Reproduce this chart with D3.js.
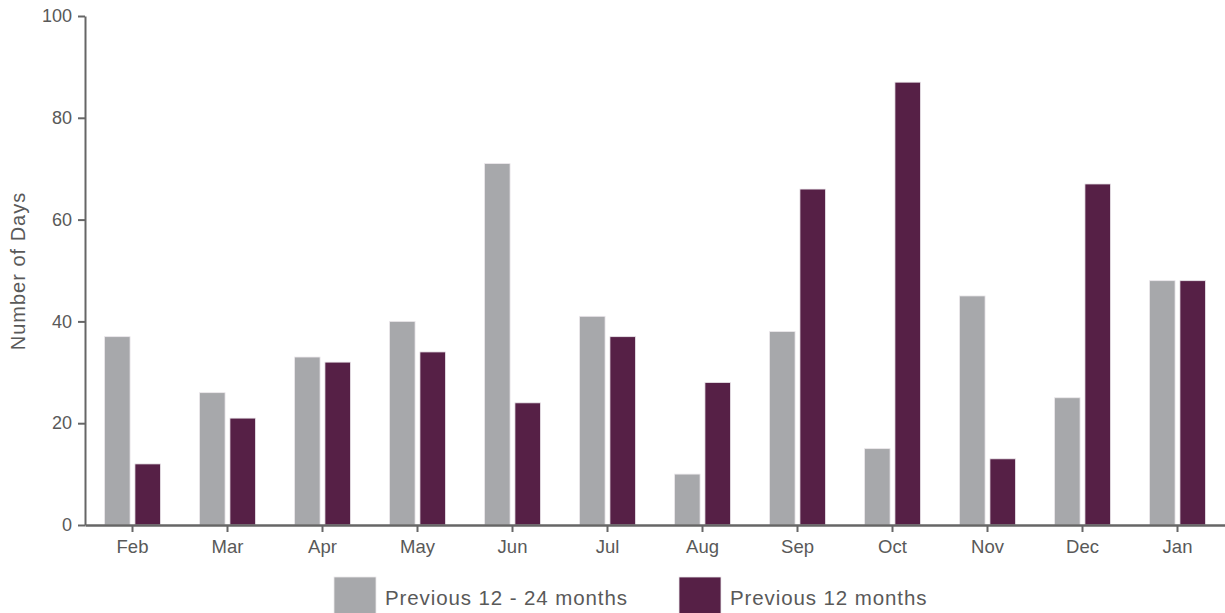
<!DOCTYPE html>
<html>
<head>
<meta charset="utf-8">
<script src="https://cdn.jsdelivr.net/npm/d3@7"></script>
<style>
  html, body { margin: 0; padding: 0; background: #fff; }
  svg { display: block; font-family: "Liberation Sans", Arial, sans-serif; }
</style>
</head>
<body>
<svg id="chart" width="1225" height="613"></svg>
<script>
const months = ["Feb","Mar","Apr","May","Jun","Jul","Aug","Sep","Oct","Nov","Dec","Jan"];
const seriesNames = ["Previous 12 - 24 months", "Previous 12 months"];
const prev12to24 = [37, 26, 33, 40, 71, 41, 10, 38, 15, 45, 25, 48];
const prev12 = [12, 21, 32, 34, 24, 37, 28, 66, 87, 13, 67, 48];
const yTicks = [0, 20, 40, 60, 80, 100];
const colors = ["#a7a8ab", "#562046"];

const rows = months.map((m, i) => ({ month: m, values: [prev12to24[i], prev12[i]] }));

const svg = d3.select("#chart");
const textColor = "#595959";
const axisColor = "#666";

const x0 = d3.scaleBand().domain(months).range([85, 1225]).padding(0);
const bw = x0.bandwidth();
const x1 = d3.scaleBand().domain([0, 1]).range([bw / 2 - 28, bw / 2 + 28]).paddingInner(0.16);
const y = d3.scaleLinear().domain([0, 100]).range([525, 16]);

// bars
const groups = svg.append("g").selectAll("g").data(rows).join("g")
  .attr("transform", d => `translate(${x0(d.month)},0)`);
groups.selectAll("rect").data(d => d.values.map((v, k) => ({ k, v }))).join("rect")
  .attr("x", d => x1(d.k))
  .attr("width", x1.bandwidth())
  .attr("y", d => y(d.v))
  .attr("height", d => y(0) - y(d.v))
  .attr("fill", d => colors[d.k])
  .attr("stroke", "#ece8ec")
  .attr("stroke-width", 0.8);

// y axis
const yAxis = svg.append("g").attr("transform", "translate(85,0)")
  .call(d3.axisLeft(y).tickValues(yTicks).tickSize(7).tickPadding(6).tickSizeOuter(0));
yAxis.select(".domain").attr("stroke", axisColor).attr("stroke-width", 2);
yAxis.selectAll(".tick line").attr("stroke", axisColor).attr("stroke-width", 2);
yAxis.selectAll(".tick text").attr("fill", textColor).style("font-size", "18px")
  .style("font-family", '"Liberation Sans", Arial, sans-serif');

// x axis
const xAxis = svg.append("g").attr("transform", `translate(0,${y(0)})`)
  .call(d3.axisBottom(x0).tickSize(7).tickPadding(8).tickSizeOuter(0));
xAxis.select(".domain").attr("stroke", axisColor).attr("stroke-width", 2.5);
xAxis.selectAll(".tick line").attr("stroke", axisColor).attr("stroke-width", 2);
xAxis.selectAll(".tick text").attr("fill", textColor).style("font-size", "18.5px")
  .style("font-family", '"Liberation Sans", Arial, sans-serif');

// y title
svg.append("text")
  .attr("transform", "translate(25,271) rotate(-90)")
  .attr("text-anchor", "middle")
  .attr("fill", textColor)
  .style("font-size", "20px")
  .style("letter-spacing", "1px")
  .text("Number of Days");

// legend
const legendX = [334, 679];
const legend = svg.append("g").selectAll("g").data(seriesNames).join("g")
  .attr("transform", (d, i) => `translate(${legendX[i]},577)`);
legend.append("rect").attr("width", 42).attr("height", 40)
  .attr("fill", (d, i) => colors[i]).attr("stroke", "#ece8ec").attr("stroke-width", 0.8);
legend.append("text").attr("x", 51).attr("y", 28)
  .attr("fill", textColor).style("font-size", "20.5px").style("letter-spacing", "0.9px").text(d => d);
</script>
</body>
</html>
